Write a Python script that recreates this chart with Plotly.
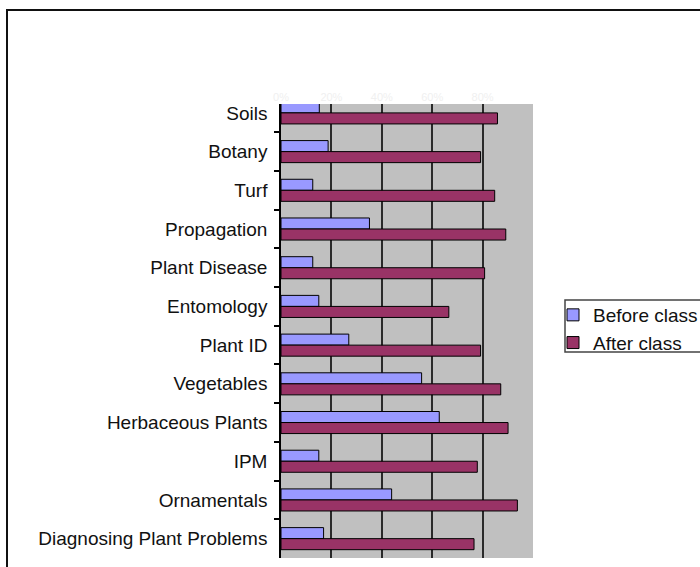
import plotly.graph_objects as go

# Survey categories, listed top to bottom
categories = [
    "Soils", "Botany", "Turf", "Propagation", "Plant Disease", "Entomology",
    "Plant ID", "Vegetables", "Herbaceous Plants", "IPM", "Ornamentals",
    "Diagnosing Plant Problems",
]
# Percent of respondents rating themselves knowledgeable
before_class = [15.2, 18.7, 12.6, 35.1, 12.6, 15.0, 26.9, 55.8, 62.8, 15.0, 43.9, 16.9]
after_class = [85.9, 79.2, 84.8, 89.2, 80.8, 66.6, 79.2, 87.2, 90.1, 77.9, 93.8, 76.6]

x_ticks = [0, 20, 40, 60, 80]
x_tick_labels = ["0%", "20%", "40%", "60%", "80%"]

FONT = "Liberation Sans, Arial, sans-serif"

fig = go.Figure()
fig.add_trace(go.Bar(
    y=categories, x=before_class, orientation="h", name="Before class",
    marker=dict(color="#9999FF", line=dict(color="#000000", width=1)),
))
fig.add_trace(go.Bar(
    y=categories, x=after_class, orientation="h", name="After class",
    marker=dict(color="#993366", line=dict(color="#000000", width=1)),
))

L, R, T, B = 281, 167, 104, 9
W, H = 700, 567
pw, ph = W - L - R, H - T - B

def px_x(px):
    return (px - L) / pw

def px_y(py):
    return (H - B - py) / ph

fig.update_layout(
    width=W, height=H,
    margin=dict(l=L, r=R, t=T, b=B, autoexpand=False),
    paper_bgcolor="white",
    plot_bgcolor="#C0C0C0",
    barmode="group",
    bargap=0.43,
    bargroupgap=0,
    font=dict(family=FONT, size=19, color="#111111"),
    showlegend=True,
    legend=dict(
        x=px_x(553), y=px_y(296), xanchor="left", yanchor="top",
        bgcolor="rgba(0,0,0,0)", borderwidth=0,
        font=dict(family=FONT, size=19, color="#111111"),
        tracegroupgap=0,
    ),
    xaxis=dict(
        range=[0, 100], side="top",
        tickvals=x_ticks, ticktext=x_tick_labels,
        tickfont=dict(size=11, color="#f0f0f0"),
        showgrid=True, gridcolor="#2a2a2a", gridwidth=1.5,
        zeroline=False, showline=False, ticks="",
    ),
    yaxis=dict(
        categoryorder="array", categoryarray=categories,
        range=[11.5, -0.23],
        showline=True, linecolor="#000000", linewidth=1.5,
        ticks="outside", ticklen=5, tickcolor="#000000", tickwidth=1.5,
        tickson="boundaries", ticklabelstandoff=8,
        showgrid=False, zeroline=False,
    ),
    shapes=[
        # outer chart frame, running off the right and bottom edges
        dict(type="rect", xref="paper", yref="paper",
             x0=px_x(7), x1=px_x(720), y0=px_y(590), y1=px_y(10),
             line=dict(color="#111111", width=2), fillcolor="rgba(0,0,0,0)"),
        # legend box
        dict(type="rect", xref="paper", yref="paper",
             x0=px_x(565), x1=px_x(720), y0=px_y(352), y1=px_y(300),
             line=dict(color="#444444", width=1.5), fillcolor="rgba(0,0,0,0)"),
    ],
)

fig.write_html("out.html")
